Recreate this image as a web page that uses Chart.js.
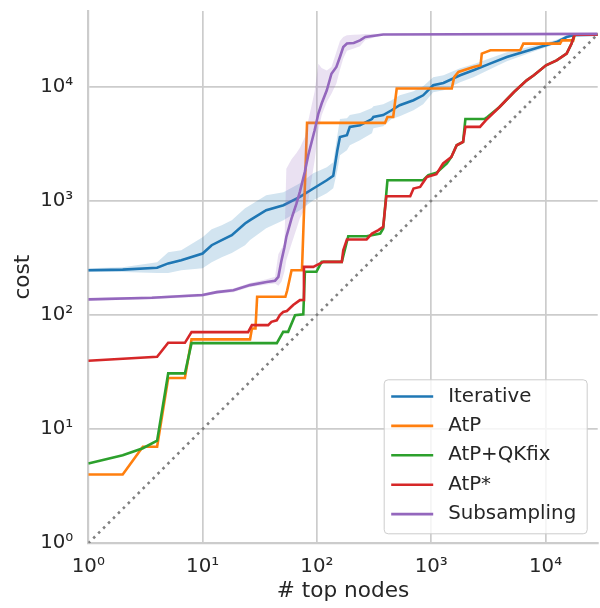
<!DOCTYPE html>
<html lang="en">
<head>
<meta charset="UTF-8">
<title>cost vs top nodes</title>
<script src="https://cdn.jsdelivr.net/npm/chart.js"></script>
<style>
    html, body {
        margin: 0;
        padding: 0;
        background: #ffffff;
    }
</style>
</head>
<body>
<canvas id="chart" width="600" height="608"></canvas>
<script>
    // axis ticks
    const xTicks = [1, 10, 100, 1000, 10000];
    const xTickLabels = ['10⁰', '10¹', '10²', '10³', '10⁴'];
    const yTicks = [1, 10, 100, 1000, 10000];
    const yTickLabels = ['10⁰', '10¹', '10²', '10³', '10⁴'];
    const xMax = 28600;
    const yMax = 45700;

    const seriesNames = ['Iterative', 'AtP', 'AtP+QKfix', 'AtP*', 'Subsampling'];

    // Iterative (mean + band)
    const iterX = [1, 2, 4, 5, 6.5, 10, 12, 14.7, 18, 23.5, 26, 36, 51, 71, 93, 122, 139, 151, 159, 183, 194, 238, 303, 312, 380, 450, 530, 700, 850, 1040, 1280, 1790, 2340, 3270, 4580, 6400, 8950, 12500, 15300, 17500, 28600];
    const iterMean = [246, 249, 258, 282, 301, 344, 407, 451, 498, 630, 674, 824, 912, 1077, 1276, 1508, 1651, 2761, 3608, 3740, 4418, 4571, 5178, 5398, 5610, 6180, 6840, 7568, 8353, 10230, 10710, 12500, 13830, 15820, 18080, 20000, 22130, 24440, 27050, 28000, 28300];
    const iterHi = [256, 261, 289, 354, 368, 478, 562, 609, 674, 859, 912, 1115, 1185, 1420, 1738, 1959, 2168, 3740, 5178, 5260, 5610, 5834, 6457, 6700, 6968, 7568, 8353, 9058, 10020, 12020, 12500, 14390, 15600, 17630, 19860, 21530, 23350, 25590, 28000, 28400, 28300];
    const iterLo = [237, 237, 232, 232, 246, 256, 289, 320, 347, 407, 451, 574, 674, 824, 1008, 1161, 1284, 1845, 2496, 2761, 3053, 3378, 3892, 4306, 4477, 5178, 5470, 6180, 6968, 8890, 9250, 10860, 12020, 14120, 16560, 18710, 21130, 23610, 26360, 27420, 28300];

    // AtP
    const atpX = [1, 2, 3, 4, 5, 6, 7, 8, 26, 27, 29, 30, 53, 55, 60, 74, 82, 394, 414, 465, 499, 1513, 1590, 1730, 2340, 2700, 2770, 3300, 6000, 6400, 13400, 13900, 17500, 18000, 28600];
    const atpY = [4, 4, 7, 7, 28, 28, 28, 61, 61, 76, 76, 144, 144, 164, 246, 246, 4790, 4790, 5400, 5400, 9570, 9570, 12080, 13370, 14790, 15300, 19360, 20700, 20700, 23680, 23680, 25300, 25300, 28300, 28300];

    // AtP+QKfix
    const qkX = [1, 2, 3, 4, 5, 6, 7, 8, 44.6, 50.7, 56, 64.4, 76, 78.5, 99, 110, 165, 188, 272, 358, 380, 414, 850, 943, 1110, 1370, 1500, 1670, 1900, 1990, 2920, 3100, 3960, 5300, 6840, 7900, 10100, 12500, 15300, 16900, 17900, 28600];
    const qkY = [5.0, 5.9, 6.8, 7.9, 30.7, 30.7, 30.7, 56.5, 56.5, 71, 71, 99.4, 101, 238, 238, 291, 291, 488, 488, 515, 570, 1508, 1508, 1667, 1750, 2113, 2412, 3053, 3270, 5178, 5178, 5400, 6600, 8930, 11300, 12500, 15300, 16900, 19360, 23680, 28300, 28300];

    // AtP*
    const atpStarX = [1, 4, 5, 7, 8, 25, 27, 37.5, 40, 44.5, 47.4, 50.7, 54.6, 62, 71, 76, 77, 93, 99.5, 114, 165, 170, 183, 272, 303, 345, 380, 405, 655, 700, 800, 915, 1110, 1270, 1500, 1670, 1900, 1990, 2670, 3000, 3960, 5300, 6840, 7900, 10100, 12500, 15300, 16900, 17900, 28600];
    const atpStarY = [39.6, 42.9, 56.9, 56.9, 70.6, 70.6, 81.3, 81.3, 86.9, 89.6, 99.7, 106, 108, 122, 134.6, 135, 263, 263, 272, 291, 291, 368, 457, 457, 515, 551, 589, 1093, 1093, 1276, 1318, 1611, 1702, 2113, 2412, 3053, 3270, 4418, 4418, 5050, 6600, 8930, 11300, 12500, 15300, 16900, 19360, 23680, 28300, 28300];

    // Subsampling (mean + band)
    const subX = [1, 3.6, 10, 13.3, 18.6, 26, 36.3, 43, 46, 49, 52, 54, 60, 66, 71, 78.5, 84, 95.5, 103, 110, 122, 134, 148, 159, 170, 183, 210, 238, 265, 380, 28600];
    const subMean = [136.5, 141, 149, 158, 164, 182, 194, 199, 215, 300, 390, 480, 700, 930, 1200, 1800, 2500, 4130, 5780, 7080, 9250, 12900, 14800, 18100, 22100, 23700, 24000, 25300, 27050, 28500, 28800];
    const subHi = [140, 145, 154, 163, 170, 190, 205, 215, 340, 380, 420, 1900, 2300, 2600, 2900, 3600, 5000, 9000, 15800, 14500, 13800, 14800, 20000, 25000, 27050, 28000, 28300, 28500, 28700, 28900, 28900];
    const subLo = [133, 137, 144, 153, 158, 175, 184, 188, 180, 195, 240, 300, 420, 560, 700, 850, 1000, 2250, 4100, 5600, 7300, 8600, 10600, 14000, 17500, 20500, 21500, 22500, 25500, 28200, 28700];

    // y = x reference
    const diagX = [1, 28600];
    const diagY = [1, 28600];

    const colors = ['#1f77b4', '#ff7f0e', '#2ca02c', '#d62728', '#9467bd'];
    const textColor = '#262626';
    const fontFamily = '"DejaVu Sans", sans-serif';

    const pts = (xs, ys) => xs.map((x, i) => ({ x: x, y: ys[i] }));

    function line(label, xs, ys, color, order) {
        return {
            label: label,
            data: pts(xs, ys),
            borderColor: color,
            borderWidth: 2.6,
            pointRadius: 0,
            fill: false,
            order: order
        };
    }

    function band(xs, ys, color, fill, order) {
        return {
            label: '',
            data: pts(xs, ys),
            borderWidth: 0,
            borderColor: 'rgba(0,0,0,0)',
            backgroundColor: color,
            pointRadius: 0,
            fill: fill,
            order: order
        };
    }

    const datasets = [
        line(seriesNames[0], iterX, iterMean, colors[0], 9),
        line(seriesNames[1], atpX, atpY, colors[1], 8),
        line(seriesNames[2], qkX, qkY, colors[2], 7),
        line(seriesNames[3], atpStarX, atpStarY, colors[3], 6),
        line(seriesNames[4], subX, subMean, colors[4], 4),
        band(iterX, iterHi, 'rgba(31,119,180,0.2)', 6, 10),
        band(iterX, iterLo, 'rgba(31,119,180,0.2)', false, 10),
        band(subX, subHi, 'rgba(148,103,189,0.2)', 8, 5),
        band(subX, subLo, 'rgba(148,103,189,0.2)', false, 5),
        {
            label: '',
            data: pts(diagX, diagY),
            borderColor: '#808080',
            borderWidth: 2.6,
            borderDash: [2.6, 4.4],
            pointRadius: 0,
            fill: false,
            order: 3
        }
    ];

    // legend drawn inside the plot, lower right
    const legendBox = {
        id: 'legendBox',
        afterDraw(chart) {
            const ctx = chart.ctx;
            const ca = chart.chartArea;
            const w = 203, h = 154;
            const x0 = ca.right - 10.5 - w;
            const y0 = ca.bottom - 9.5 - h;
            ctx.save();
            ctx.beginPath();
            ctx.roundRect(x0, y0, w, h, 4);
            ctx.fillStyle = 'rgba(255,255,255,0.8)';
            ctx.fill();
            ctx.strokeStyle = '#cccccc';
            ctx.lineWidth = 1;
            ctx.stroke();
            ctx.font = '19.8px ' + fontFamily;
            ctx.textBaseline = 'middle';
            ctx.textAlign = 'left';
            seriesNames.forEach((name, i) => {
                const y = y0 + 16.7 + i * 29.4;
                ctx.strokeStyle = colors[i];
                ctx.lineWidth = 2.6;
                ctx.beginPath();
                ctx.moveTo(x0 + 7, y);
                ctx.lineTo(x0 + 49, y);
                ctx.stroke();
                ctx.fillStyle = textColor;
                ctx.fillText(name, x0 + 64, y);
            });
            ctx.restore();
        }
    };

    const ctx = document.getElementById('chart').getContext('2d');
    new Chart(ctx, {
        type: 'line',
        data: { datasets: datasets },
        plugins: [legendBox],
        options: {
            responsive: false,
            animation: false,
            layout: { padding: { top: 11, right: 2.3, left: 0, bottom: 0 } },
            plugins: {
                legend: { display: false },
                tooltip: { enabled: false }
            },
            elements: { line: { tension: 0 } },
            scales: {
                x: {
                    type: 'logarithmic',
                    min: 1,
                    max: xMax,
                    afterBuildTicks: (s) => { s.ticks = xTicks.map(v => ({ value: v })); },
                    afterFit: (s) => {
                        s.height = 64.7;
                        s.paddingLeft = 0;
                        s.paddingRight = 0;
                    },
                    ticks: {
                        autoSkip: false,
                        maxRotation: 0,
                        padding: 12,
                        color: textColor,
                        font: { family: fontFamily, size: 19.8 },
                        callback: (v) => xTickLabels[xTicks.indexOf(v)]
                    },
                    grid: { color: '#cccccc', lineWidth: 1.7, drawTicks: false },
                    border: { color: '#cccccc', width: 2.2 },
                    title: {
                        display: true,
                        text: '# top nodes',
                        color: textColor,
                        font: { family: fontFamily, size: 21.6 },
                        padding: { top: 0, bottom: 4 }
                    }
                },
                y: {
                    type: 'logarithmic',
                    min: 1,
                    max: yMax,
                    afterBuildTicks: (s) => { s.ticks = yTicks.map(v => ({ value: v })); },
                    afterFit: (s) => {
                        s.width = 88.3;
                        s.paddingTop = 0;
                        s.paddingBottom = 0;
                    },
                    ticks: {
                        autoSkip: false,
                        padding: 15,
                        color: textColor,
                        font: { family: fontFamily, size: 19.8 },
                        callback: (v) => yTickLabels[yTicks.indexOf(v)]
                    },
                    grid: { color: '#cccccc', lineWidth: 1.7, drawTicks: false },
                    border: { color: '#cccccc', width: 2.2 },
                    title: {
                        display: true,
                        text: 'cost',
                        color: textColor,
                        font: { family: fontFamily, size: 21.6 },
                        padding: { top: 10, bottom: 0 }
                    }
                }
            }
        }
    });
</script>
</body>
</html>
